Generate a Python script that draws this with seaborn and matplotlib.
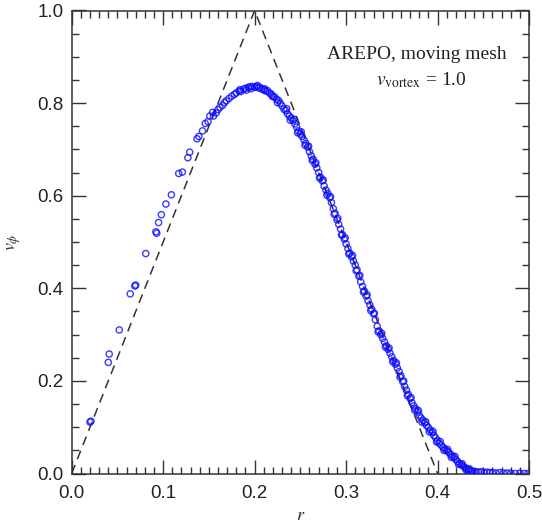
import numpy as np
import pandas as pd
import seaborn as sns
import matplotlib.pyplot as plt
from matplotlib.ticker import MultipleLocator

# 解析解 (三角形速度剖面)
r_exact = [0.0, 0.2, 0.4]
v_exact = [0.0, 1.0, 0.0]

# 内侧稀疏点
r_inner = [0.020, 0.021, 0.041, 0.040, 0.052, 0.064, 0.069, 0.070, 0.081, 0.092, 0.093,
           0.095, 0.098, 0.103, 0.109, 0.117, 0.121, 0.127, 0.129, 0.137, 0.139, 0.143,
           0.146, 0.149, 0.151, 0.154]
v_inner = [0.111, 0.113, 0.258, 0.240, 0.310, 0.388, 0.405, 0.407, 0.475, 0.522, 0.519,
           0.542, 0.559, 0.582, 0.602, 0.648, 0.651, 0.682, 0.694, 0.723, 0.728, 0.740,
           0.756, 0.760, 0.772, 0.780]

# 峰值附近
r_peak = [0.155, 0.158, 0.160, 0.162, 0.165, 0.167, 0.169, 0.172, 0.175, 0.178, 0.180,
          0.183, 0.185, 0.188, 0.190, 0.191, 0.193, 0.195, 0.197, 0.200, 0.202, 0.204,
          0.206, 0.208, 0.210, 0.212, 0.214, 0.216, 0.218, 0.220, 0.222, 0.224, 0.226,
          0.228, 0.230, 0.184, 0.196, 0.203, 0.211, 0.219, 0.225]
v_peak = [0.772, 0.779, 0.786, 0.791, 0.795, 0.801, 0.805, 0.810, 0.815, 0.819, 0.822,
          0.826, 0.825, 0.830, 0.832, 0.828, 0.834, 0.835, 0.836, 0.834, 0.836, 0.833,
          0.834, 0.830, 0.829, 0.826, 0.827, 0.822, 0.820, 0.814, 0.813, 0.808, 0.806,
          0.800, 0.794, 0.829, 0.831, 0.838, 0.831, 0.816, 0.801]

# 下降段 (主带)
r_desc = [0.232, 0.234, 0.236, 0.238, 0.240, 0.242, 0.244, 0.246, 0.248, 0.250, 0.252,
          0.254, 0.256, 0.258, 0.260, 0.262, 0.264, 0.266, 0.268, 0.270, 0.272, 0.274,
          0.276, 0.278, 0.280, 0.282, 0.284, 0.286, 0.288, 0.290, 0.292, 0.294, 0.296,
          0.298, 0.300, 0.302, 0.304, 0.306, 0.308, 0.310, 0.312, 0.314, 0.316, 0.318,
          0.320, 0.322, 0.324, 0.326, 0.328, 0.330, 0.332, 0.334, 0.336, 0.338, 0.340,
          0.342, 0.344, 0.346, 0.348, 0.350, 0.352, 0.354, 0.356, 0.358, 0.360, 0.362,
          0.364, 0.366, 0.368, 0.370, 0.372, 0.374, 0.376, 0.378, 0.380, 0.382, 0.384,
          0.386, 0.388, 0.390, 0.392, 0.394, 0.396, 0.398, 0.400, 0.402, 0.404, 0.406,
          0.408, 0.410, 0.412, 0.414, 0.416, 0.418, 0.420, 0.422, 0.424, 0.426, 0.428,
          0.430, 0.432, 0.434, 0.436, 0.438, 0.440]
v_desc = [0.787, 0.784, 0.777, 0.772, 0.768, 0.762, 0.755, 0.748, 0.740, 0.733, 0.728,
          0.720, 0.713, 0.705, 0.695, 0.686, 0.679, 0.668, 0.660, 0.650, 0.640, 0.632,
          0.621, 0.612, 0.605, 0.596, 0.585, 0.572, 0.562, 0.548, 0.538, 0.528, 0.516,
          0.506, 0.496, 0.486, 0.476, 0.468, 0.459, 0.450, 0.440, 0.426, 0.414, 0.404,
          0.394, 0.383, 0.373, 0.364, 0.355, 0.345, 0.332, 0.318, 0.308, 0.300, 0.292,
          0.284, 0.276, 0.268, 0.260, 0.252, 0.244, 0.236, 0.228, 0.220, 0.211, 0.198,
          0.188, 0.180, 0.171, 0.162, 0.153, 0.146, 0.140, 0.133, 0.126, 0.120, 0.115,
          0.109, 0.104, 0.099, 0.094, 0.088, 0.082, 0.077, 0.071, 0.065, 0.061, 0.057,
          0.053, 0.049, 0.046, 0.042, 0.038, 0.034, 0.030, 0.026, 0.022, 0.019, 0.016,
          0.013, 0.010, 0.008, 0.006, 0.005, 0.004]

# 下降段 (散布点)
r_desc2 = [0.235, 0.239, 0.243, 0.247, 0.251, 0.255, 0.259, 0.263, 0.267, 0.271, 0.275,
           0.279, 0.283, 0.287, 0.291, 0.295, 0.299, 0.303, 0.307, 0.311, 0.315, 0.319,
           0.323, 0.327, 0.331, 0.335, 0.339, 0.343, 0.347, 0.351, 0.355, 0.359, 0.363,
           0.367, 0.371, 0.375, 0.379, 0.383, 0.387, 0.391, 0.395, 0.399, 0.403, 0.407,
           0.411, 0.415, 0.419, 0.423, 0.427, 0.431, 0.435]
v_desc2 = [0.788, 0.763, 0.765, 0.736, 0.738, 0.709, 0.707, 0.676, 0.671, 0.638, 0.634,
           0.601, 0.598, 0.560, 0.551, 0.515, 0.509, 0.474, 0.471, 0.438, 0.428, 0.392,
           0.386, 0.352, 0.346, 0.306, 0.303, 0.273, 0.271, 0.241, 0.239, 0.208, 0.200,
           0.168, 0.164, 0.137, 0.136, 0.111, 0.112, 0.090, 0.091, 0.068, 0.069, 0.050,
           0.052, 0.035, 0.037, 0.020, 0.021, 0.008, 0.010]

# 外侧尾部
r_tail = [0.442, 0.445, 0.448, 0.451, 0.454, 0.457, 0.460, 0.464, 0.468, 0.472, 0.476,
          0.480, 0.485, 0.490, 0.495, 0.499]
v_tail = [0.004, 0.003, 0.004, 0.002, 0.003, 0.002, 0.002, 0.001, 0.002, 0.001, 0.001,
          0.001, 0.000, 0.001, 0.000, 0.000]

df = pd.DataFrame({
    "r": r_inner + r_peak + r_desc + r_desc2 + r_tail,
    "v": v_inner + v_peak + v_desc + v_desc2 + v_tail,
})
df_exact = pd.DataFrame({"r": r_exact, "v": v_exact})

sns.set_style("ticks")
plt.rcParams["font.family"] = ["Liberation Sans", "DejaVu Sans"]
plt.rcParams["mathtext.fontset"] = "stix"

fig = plt.figure(figsize=(5.42, 5.23), dpi=100)
ax = fig.add_axes([71.7 / 542, 1 - 473.5 / 523, (529 - 71.7) / 542, (473.5 - 10.5) / 523])

sns.lineplot(data=df_exact, x="r", y="v", ax=ax, color="#333333", lw=1.1,
             linestyle=(0, (6, 4)), sort=False, estimator=None)
sns.scatterplot(data=df, x="r", y="v", ax=ax, marker="o", s=20, facecolors="none",
                edgecolor="#0a0aff", linewidth=1.0, alpha=0.8, zorder=3)

ax.set_xlim(0, 0.5)
ax.set_ylim(0, 1.0)
ax.xaxis.set_major_locator(MultipleLocator(0.1))
ax.xaxis.set_minor_locator(MultipleLocator(0.01))
ax.yaxis.set_major_locator(MultipleLocator(0.2))
ax.yaxis.set_minor_locator(MultipleLocator(0.05))
ax.tick_params(which="both", direction="in", top=True, right=True, colors="#333333",
               labelcolor="#222222", labelsize=13.5, width=1)
ax.tick_params(which="major", length=10)
ax.tick_params(which="minor", length=5)
ax.tick_params(axis="x", which="major", pad=8)
ax.tick_params(axis="y", which="major", pad=6)
for sp in ax.spines.values():
    sp.set_color("#333333")
    sp.set_linewidth(1.1)

ax.set_xlabel("$r$", fontsize=13, labelpad=4)
ax.set_ylabel(r"$v_\phi$", fontsize=13, labelpad=10)

ax.text(0.755, 0.905, "AREPO, moving mesh", transform=ax.transAxes, ha="center",
        va="center", fontsize=14, family="Liberation Serif", color="#222222")
ax.text(0.765, 0.85, r"$v_{\rm vortex}$ = 1.0", transform=ax.transAxes, ha="center",
        va="center", fontsize=14, family="Liberation Serif", color="#222222")

plt.savefig("out.png", dpi=100)
